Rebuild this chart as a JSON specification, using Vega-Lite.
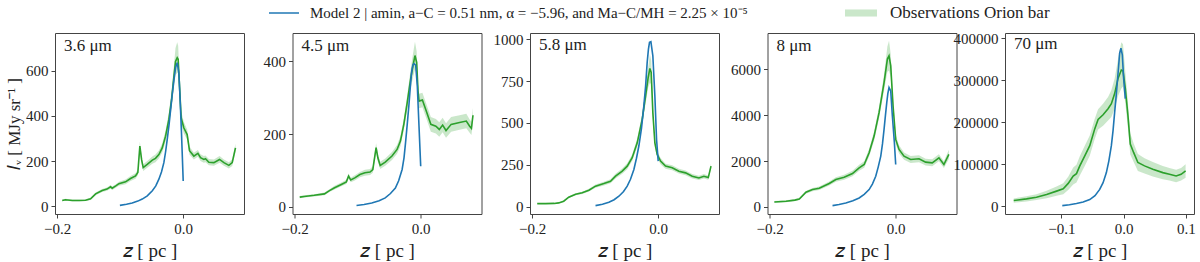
{
  "$schema": "https://vega.github.io/schema/vega-lite/v6.json",
  "padding": {"left": 5, "top": -3, "right": 0, "bottom": 0},
  "bounds": "flush",
  "spacing": 48.5,
  "config": {
    "font": "Liberation Serif",
    "view": {"stroke": "#444", "strokeWidth": 1},
    "axis": {"labelFont": "Liberation Serif", "labelFontSize": 15, "labelColor": "#222", "tickColor": "#444", "tickSize": 4, "domain": false, "grid": false, "labelPadding": 3, "labelFlush": false, "titleFont": "Liberation Serif", "titleColor": "#222", "titleFontWeight": "normal", "titleFontSize": 19},
    "legend": {"labelFont": "Liberation Serif", "labelColor": "#222", "labelLimit": 1000},
    "title": {"font": "Liberation Serif", "fontSize": 17, "fontWeight": "normal", "color": "#222"}
  },
  "datasets": {
    "obs": [
      {"p":"3.6","z":-0.192,"v":26,"lo":22,"hi":30},
      {"p":"3.6","z":-0.187,"v":29,"lo":25,"hi":33},
      {"p":"3.6","z":-0.176,"v":26,"lo":22,"hi":30},
      {"p":"3.6","z":-0.165,"v":26,"lo":22,"hi":30},
      {"p":"3.6","z":-0.155,"v":27,"lo":23,"hi":31},
      {"p":"3.6","z":-0.147,"v":33,"lo":28,"hi":38},
      {"p":"3.6","z":-0.139,"v":55,"lo":49,"hi":61},
      {"p":"3.6","z":-0.1286,"v":70,"lo":63,"hi":77},
      {"p":"3.6","z":-0.121,"v":76,"lo":69,"hi":83},
      {"p":"3.6","z":-0.1153,"v":86,"lo":78,"hi":94},
      {"p":"3.6","z":-0.1127,"v":80,"lo":72,"hi":88},
      {"p":"3.6","z":-0.107,"v":90,"lo":82,"hi":98},
      {"p":"3.6","z":-0.102,"v":100,"lo":91,"hi":109},
      {"p":"3.6","z":-0.0915,"v":108,"lo":98,"hi":118},
      {"p":"3.6","z":-0.0836,"v":123,"lo":112,"hi":134},
      {"p":"3.6","z":-0.0757,"v":134,"lo":122,"hi":146},
      {"p":"3.6","z":-0.072,"v":150,"lo":137,"hi":163},
      {"p":"3.6","z":-0.0688,"v":266,"lo":246,"hi":286},
      {"p":"3.6","z":-0.066,"v":205,"lo":189,"hi":221},
      {"p":"3.6","z":-0.0635,"v":171,"lo":156,"hi":186},
      {"p":"3.6","z":-0.0571,"v":185,"lo":170,"hi":200},
      {"p":"3.6","z":-0.049,"v":204,"lo":188,"hi":220},
      {"p":"3.6","z":-0.044,"v":212,"lo":195,"hi":229},
      {"p":"3.6","z":-0.0386,"v":229,"lo":211,"hi":247},
      {"p":"3.6","z":-0.0333,"v":258,"lo":238,"hi":278},
      {"p":"3.6","z":-0.028,"v":310,"lo":285,"hi":335},
      {"p":"3.6","z":-0.0228,"v":383,"lo":353,"hi":413},
      {"p":"3.6","z":-0.0185,"v":470,"lo":432,"hi":508},
      {"p":"3.6","z":-0.0148,"v":572,"lo":524,"hi":620},
      {"p":"3.6","z":-0.0122,"v":640,"lo":580,"hi":700},
      {"p":"3.6","z":-0.0095,"v":657,"lo":589,"hi":725},
      {"p":"3.6","z":-0.008,"v":650,"lo":590,"hi":710},
      {"p":"3.6","z":-0.0058,"v":528,"lo":483,"hi":573},
      {"p":"3.6","z":-0.0032,"v":390,"lo":360,"hi":420},
      {"p":"3.6","z":0.0011,"v":346,"lo":321,"hi":371},
      {"p":"3.6","z":0.0063,"v":317,"lo":295,"hi":339},
      {"p":"3.6","z":0.01,"v":246,"lo":228,"hi":264},
      {"p":"3.6","z":0.0169,"v":222,"lo":207,"hi":237},
      {"p":"3.6","z":0.0233,"v":234,"lo":219,"hi":249},
      {"p":"3.6","z":0.0275,"v":215,"lo":200,"hi":230},
      {"p":"3.6","z":0.0328,"v":207,"lo":192,"hi":222},
      {"p":"3.6","z":0.0354,"v":210,"lo":195,"hi":225},
      {"p":"3.6","z":0.0407,"v":195,"lo":181,"hi":209},
      {"p":"3.6","z":0.0487,"v":193,"lo":179,"hi":207},
      {"p":"3.6","z":0.0577,"v":207,"lo":192,"hi":222},
      {"p":"3.6","z":0.0646,"v":193,"lo":179,"hi":207},
      {"p":"3.6","z":0.0725,"v":181,"lo":167,"hi":195},
      {"p":"3.6","z":0.0778,"v":193,"lo":178,"hi":208},
      {"p":"3.6","z":0.083,"v":258,"lo":240,"hi":276},

      {"p":"4.5","z":-0.192,"v":27,"lo":24,"hi":30},
      {"p":"4.5","z":-0.185,"v":29,"lo":26,"hi":32},
      {"p":"4.5","z":-0.169,"v":32,"lo":29,"hi":35},
      {"p":"4.5","z":-0.1528,"v":36,"lo":32,"hi":40},
      {"p":"4.5","z":-0.1448,"v":45,"lo":41,"hi":49},
      {"p":"4.5","z":-0.1367,"v":53,"lo":48,"hi":58},
      {"p":"4.5","z":-0.126,"v":62,"lo":57,"hi":67},
      {"p":"4.5","z":-0.118,"v":69,"lo":63,"hi":75},
      {"p":"4.5","z":-0.1145,"v":85,"lo":78,"hi":92},
      {"p":"4.5","z":-0.111,"v":74,"lo":68,"hi":80},
      {"p":"4.5","z":-0.1046,"v":80,"lo":73,"hi":87},
      {"p":"4.5","z":-0.0965,"v":89,"lo":82,"hi":96},
      {"p":"4.5","z":-0.0885,"v":94,"lo":86,"hi":102},
      {"p":"4.5","z":-0.0804,"v":96,"lo":88,"hi":104},
      {"p":"4.5","z":-0.076,"v":103,"lo":94,"hi":112},
      {"p":"4.5","z":-0.0708,"v":163,"lo":151,"hi":175},
      {"p":"4.5","z":-0.068,"v":135,"lo":124,"hi":146},
      {"p":"4.5","z":-0.0643,"v":114,"lo":104,"hi":124},
      {"p":"4.5","z":-0.0563,"v":123,"lo":113,"hi":133},
      {"p":"4.5","z":-0.0456,"v":140,"lo":129,"hi":151},
      {"p":"4.5","z":-0.0375,"v":158,"lo":146,"hi":170},
      {"p":"4.5","z":-0.0322,"v":181,"lo":167,"hi":195},
      {"p":"4.5","z":-0.0268,"v":227,"lo":211,"hi":243},
      {"p":"4.5","z":-0.0214,"v":287,"lo":267,"hi":307},
      {"p":"4.5","z":-0.016,"v":351,"lo":325,"hi":377},
      {"p":"4.5","z":-0.0123,"v":388,"lo":356,"hi":420},
      {"p":"4.5","z":-0.0091,"v":416,"lo":378,"hi":454},
      {"p":"4.5","z":-0.0064,"v":397,"lo":367,"hi":427},
      {"p":"4.5","z":-0.0043,"v":319,"lo":297,"hi":341},
      {"p":"4.5","z":-0.0027,"v":291,"lo":271,"hi":311},
      {"p":"4.5","z":0.0027,"v":294,"lo":274,"hi":314},
      {"p":"4.5","z":0.008,"v":268,"lo":248,"hi":288},
      {"p":"4.5","z":0.0161,"v":227,"lo":207,"hi":247},
      {"p":"4.5","z":0.0241,"v":222,"lo":202,"hi":242},
      {"p":"4.5","z":0.0295,"v":213,"lo":193,"hi":233},
      {"p":"4.5","z":0.0348,"v":225,"lo":205,"hi":245},
      {"p":"4.5","z":0.0402,"v":210,"lo":190,"hi":230},
      {"p":"4.5","z":0.0483,"v":227,"lo":207,"hi":247},
      {"p":"4.5","z":0.0617,"v":232,"lo":212,"hi":252},
      {"p":"4.5","z":0.0724,"v":236,"lo":216,"hi":256},
      {"p":"4.5","z":0.0777,"v":222,"lo":204,"hi":240},
      {"p":"4.5","z":0.0805,"v":216,"lo":198,"hi":234},
      {"p":"4.5","z":0.083,"v":252,"lo":232,"hi":272},

      {"p":"5.8","z":-0.192,"v":20,"lo":17,"hi":23},
      {"p":"5.8","z":-0.179,"v":20,"lo":17,"hi":23},
      {"p":"5.8","z":-0.165,"v":21,"lo":18,"hi":24},
      {"p":"5.8","z":-0.158,"v":24,"lo":21,"hi":27},
      {"p":"5.8","z":-0.15,"v":34,"lo":30,"hi":38},
      {"p":"5.8","z":-0.142,"v":58,"lo":53,"hi":63},
      {"p":"5.8","z":-0.131,"v":76,"lo":70,"hi":82},
      {"p":"5.8","z":-0.1206,"v":84,"lo":77,"hi":91},
      {"p":"5.8","z":-0.11,"v":100,"lo":92,"hi":108},
      {"p":"5.8","z":-0.0995,"v":124,"lo":114,"hi":134},
      {"p":"5.8","z":-0.0862,"v":139,"lo":128,"hi":150},
      {"p":"5.8","z":-0.0757,"v":153,"lo":141,"hi":165},
      {"p":"5.8","z":-0.0677,"v":183,"lo":169,"hi":197},
      {"p":"5.8","z":-0.0571,"v":213,"lo":197,"hi":229},
      {"p":"5.8","z":-0.0492,"v":243,"lo":225,"hi":261},
      {"p":"5.8","z":-0.0413,"v":293,"lo":273,"hi":313},
      {"p":"5.8","z":-0.0333,"v":382,"lo":357,"hi":407},
      {"p":"5.8","z":-0.0254,"v":522,"lo":490,"hi":554},
      {"p":"5.8","z":-0.02,"v":661,"lo":616,"hi":706},
      {"p":"5.8","z":-0.0159,"v":771,"lo":711,"hi":831},
      {"p":"5.8","z":-0.0132,"v":825,"lo":740,"hi":910},
      {"p":"5.8","z":-0.0111,"v":801,"lo":731,"hi":871},
      {"p":"5.8","z":-0.0085,"v":562,"lo":522,"hi":602},
      {"p":"5.8","z":-0.0053,"v":382,"lo":357,"hi":407},
      {"p":"5.8","z":-0.0016,"v":313,"lo":293,"hi":333},
      {"p":"5.8","z":0.0037,"v":273,"lo":255,"hi":291},
      {"p":"5.8","z":0.0116,"v":243,"lo":228,"hi":258},
      {"p":"5.8","z":0.0222,"v":233,"lo":218,"hi":248},
      {"p":"5.8","z":0.0328,"v":213,"lo":199,"hi":227},
      {"p":"5.8","z":0.0434,"v":203,"lo":189,"hi":217},
      {"p":"5.8","z":0.054,"v":183,"lo":170,"hi":196},
      {"p":"5.8","z":0.0646,"v":173,"lo":160,"hi":186},
      {"p":"5.8","z":0.0725,"v":183,"lo":170,"hi":196},
      {"p":"5.8","z":0.0795,"v":175,"lo":162,"hi":188},
      {"p":"5.8","z":0.0838,"v":243,"lo":228,"hi":258},

      {"p":"8","z":-0.1926,"v":219,"lo":179,"hi":259},
      {"p":"8","z":-0.174,"v":248,"lo":208,"hi":288},
      {"p":"8","z":-0.16,"v":300,"lo":255,"hi":345},
      {"p":"8","z":-0.153,"v":350,"lo":300,"hi":400},
      {"p":"8","z":-0.1425,"v":642,"lo":582,"hi":702},
      {"p":"8","z":-0.132,"v":759,"lo":689,"hi":829},
      {"p":"8","z":-0.1214,"v":818,"lo":743,"hi":893},
      {"p":"8","z":-0.1055,"v":1022,"lo":932,"hi":1112},
      {"p":"8","z":-0.095,"v":1197,"lo":1097,"hi":1297},
      {"p":"8","z":-0.0818,"v":1300,"lo":1190,"hi":1410},
      {"p":"8","z":-0.0686,"v":1460,"lo":1340,"hi":1580},
      {"p":"8","z":-0.058,"v":1708,"lo":1578,"hi":1838},
      {"p":"8","z":-0.05,"v":1854,"lo":1714,"hi":1994},
      {"p":"8","z":-0.0422,"v":2365,"lo":2205,"hi":2525},
      {"p":"8","z":-0.0343,"v":3095,"lo":2895,"hi":3295},
      {"p":"8","z":-0.0264,"v":4117,"lo":3867,"hi":4367},
      {"p":"8","z":-0.0185,"v":5431,"lo":5081,"hi":5781},
      {"p":"8","z":-0.0132,"v":6453,"lo":5903,"hi":7003},
      {"p":"8","z":-0.0106,"v":6599,"lo":5949,"hi":7249},
      {"p":"8","z":-0.0079,"v":6161,"lo":5661,"hi":6661},
      {"p":"8","z":-0.0042,"v":4409,"lo":4109,"hi":4709},
      {"p":"8","z":0.0,"v":2949,"lo":2749,"hi":3149},
      {"p":"8","z":0.0053,"v":2511,"lo":2331,"hi":2691},
      {"p":"8","z":0.0132,"v":2219,"lo":2059,"hi":2379},
      {"p":"8","z":0.0237,"v":2073,"lo":1923,"hi":2223},
      {"p":"8","z":0.037,"v":2102,"lo":1952,"hi":2252},
      {"p":"8","z":0.0475,"v":1956,"lo":1806,"hi":2106},
      {"p":"8","z":0.058,"v":1927,"lo":1777,"hi":2077},
      {"p":"8","z":0.0686,"v":2146,"lo":1996,"hi":2296},
      {"p":"8","z":0.0765,"v":1850,"lo":1700,"hi":2000},
      {"p":"8","z":0.0844,"v":2292,"lo":2092,"hi":2492},

      {"p":"70","z":-0.1765,"v":13600,"lo":8600,"hi":18600},
      {"p":"70","z":-0.156,"v":17600,"lo":11600,"hi":23600},
      {"p":"70","z":-0.14,"v":21600,"lo":14600,"hi":28600},
      {"p":"70","z":-0.1237,"v":28000,"lo":19000,"hi":37000},
      {"p":"70","z":-0.1077,"v":36000,"lo":25000,"hi":47000},
      {"p":"70","z":-0.097,"v":41600,"lo":28600,"hi":54600},
      {"p":"70","z":-0.089,"v":54400,"lo":38400,"hi":70400},
      {"p":"70","z":-0.081,"v":72000,"lo":52000,"hi":92000},
      {"p":"70","z":-0.0757,"v":77600,"lo":56600,"hi":98600},
      {"p":"70","z":-0.0704,"v":96000,"lo":73000,"hi":119000},
      {"p":"70","z":-0.0624,"v":120000,"lo":96000,"hi":144000},
      {"p":"70","z":-0.0544,"v":144000,"lo":120000,"hi":168000},
      {"p":"70","z":-0.0464,"v":184000,"lo":160000,"hi":208000},
      {"p":"70","z":-0.041,"v":206400,"lo":182400,"hi":230400},
      {"p":"70","z":-0.033,"v":217600,"lo":191600,"hi":243600},
      {"p":"70","z":-0.025,"v":232000,"lo":204000,"hi":260000},
      {"p":"70","z":-0.0197,"v":244000,"lo":212000,"hi":276000},
      {"p":"70","z":-0.0144,"v":268000,"lo":232000,"hi":304000},
      {"p":"70","z":-0.009,"v":304000,"lo":262000,"hi":350000},
      {"p":"70","z":-0.0037,"v":324000,"lo":280000,"hi":390000},
      {"p":"70","z":-0.001,"v":322000,"lo":285000,"hi":385000},
      {"p":"70","z":0.0027,"v":280000,"lo":245000,"hi":320000},
      {"p":"70","z":0.0069,"v":216000,"lo":186000,"hi":246000},
      {"p":"70","z":0.0107,"v":148000,"lo":123000,"hi":173000},
      {"p":"70","z":0.016,"v":128000,"lo":106000,"hi":150000},
      {"p":"70","z":0.0229,"v":104000,"lo":84000,"hi":124000},
      {"p":"70","z":0.0336,"v":96000,"lo":78000,"hi":114000},
      {"p":"70","z":0.0469,"v":88000,"lo":71000,"hi":105000},
      {"p":"70","z":0.0629,"v":80000,"lo":64000,"hi":96000},
      {"p":"70","z":0.0736,"v":76000,"lo":61000,"hi":91000},
      {"p":"70","z":0.0843,"v":72000,"lo":57000,"hi":87000},
      {"p":"70","z":0.0923,"v":76000,"lo":61000,"hi":91000},
      {"p":"70","z":0.0995,"v":84000,"lo":68000,"hi":100000}
    ],
    "mod": [
      {"p":"3.6","z":-0.1005,"v":4},
      {"p":"3.6","z":-0.09,"v":9},
      {"p":"3.6","z":-0.081,"v":15},
      {"p":"3.6","z":-0.072,"v":23},
      {"p":"3.6","z":-0.065,"v":32},
      {"p":"3.6","z":-0.057,"v":46},
      {"p":"3.6","z":-0.049,"v":69},
      {"p":"3.6","z":-0.0435,"v":90},
      {"p":"3.6","z":-0.0386,"v":120},
      {"p":"3.6","z":-0.0345,"v":152},
      {"p":"3.6","z":-0.0307,"v":193},
      {"p":"3.6","z":-0.028,"v":240},
      {"p":"3.6","z":-0.0254,"v":295},
      {"p":"3.6","z":-0.0225,"v":360},
      {"p":"3.6","z":-0.02,"v":426},
      {"p":"3.6","z":-0.0175,"v":492},
      {"p":"3.6","z":-0.0148,"v":558},
      {"p":"3.6","z":-0.012,"v":615},
      {"p":"3.6","z":-0.0095,"v":635},
      {"p":"3.6","z":-0.0069,"v":590},
      {"p":"3.6","z":-0.0055,"v":510},
      {"p":"3.6","z":-0.0042,"v":426},
      {"p":"3.6","z":-0.0028,"v":330},
      {"p":"3.6","z":-0.0016,"v":237},
      {"p":"3.6","z":0.0,"v":112},

      {"p":"4.5","z":-0.1019,"v":4},
      {"p":"4.5","z":-0.09,"v":7},
      {"p":"4.5","z":-0.0777,"v":11},
      {"p":"4.5","z":-0.066,"v":17},
      {"p":"4.5","z":-0.0563,"v":25},
      {"p":"4.5","z":-0.048,"v":37},
      {"p":"4.5","z":-0.0402,"v":52},
      {"p":"4.5","z":-0.035,"v":72},
      {"p":"4.5","z":-0.0295,"v":103},
      {"p":"4.5","z":-0.0265,"v":135},
      {"p":"4.5","z":-0.0241,"v":176},
      {"p":"4.5","z":-0.0215,"v":225},
      {"p":"4.5","z":-0.0188,"v":278},
      {"p":"4.5","z":-0.0165,"v":330},
      {"p":"4.5","z":-0.0145,"v":370},
      {"p":"4.5","z":-0.0125,"v":390},
      {"p":"4.5","z":-0.0107,"v":394},
      {"p":"4.5","z":-0.008,"v":390},
      {"p":"4.5","z":-0.0054,"v":333},
      {"p":"4.5","z":-0.0027,"v":222},
      {"p":"4.5","z":0.0,"v":112},

      {"p":"5.8","z":-0.0995,"v":8},
      {"p":"5.8","z":-0.0885,"v":16},
      {"p":"5.8","z":-0.0783,"v":28},
      {"p":"5.8","z":-0.07,"v":43},
      {"p":"5.8","z":-0.0624,"v":64},
      {"p":"5.8","z":-0.055,"v":92},
      {"p":"5.8","z":-0.0492,"v":124},
      {"p":"5.8","z":-0.044,"v":165},
      {"p":"5.8","z":-0.0386,"v":223},
      {"p":"5.8","z":-0.0345,"v":290},
      {"p":"5.8","z":-0.0307,"v":363},
      {"p":"5.8","z":-0.0265,"v":470},
      {"p":"5.8","z":-0.0228,"v":602},
      {"p":"5.8","z":-0.02,"v":720},
      {"p":"5.8","z":-0.0175,"v":861},
      {"p":"5.8","z":-0.0155,"v":940},
      {"p":"5.8","z":-0.0138,"v":980},
      {"p":"5.8","z":-0.0116,"v":984},
      {"p":"5.8","z":-0.0085,"v":900},
      {"p":"5.8","z":-0.0053,"v":661},
      {"p":"5.8","z":-0.0026,"v":402},
      {"p":"5.8","z":0.0,"v":273},

      {"p":"8","z":-0.1003,"v":58},
      {"p":"8","z":-0.09,"v":110},
      {"p":"8","z":-0.0792,"v":175},
      {"p":"8","z":-0.068,"v":270},
      {"p":"8","z":-0.058,"v":394},
      {"p":"8","z":-0.05,"v":550},
      {"p":"8","z":-0.0422,"v":759},
      {"p":"8","z":-0.037,"v":1000},
      {"p":"8","z":-0.0317,"v":1343},
      {"p":"8","z":-0.0277,"v":1750},
      {"p":"8","z":-0.0237,"v":2219},
      {"p":"8","z":-0.021,"v":2750},
      {"p":"8","z":-0.0185,"v":3387},
      {"p":"8","z":-0.0163,"v":4000},
      {"p":"8","z":-0.0142,"v":4555},
      {"p":"8","z":-0.0125,"v":4950},
      {"p":"8","z":-0.0106,"v":5212},
      {"p":"8","z":-0.0079,"v":5066},
      {"p":"8","z":-0.0053,"v":3971},
      {"p":"8","z":-0.0021,"v":2803},
      {"p":"8","z":0.0,"v":1854},

      {"p":"70","z":-0.0985,"v":1600},
      {"p":"70","z":-0.087,"v":3500},
      {"p":"70","z":-0.0757,"v":6400},
      {"p":"70","z":-0.065,"v":10000},
      {"p":"70","z":-0.0544,"v":16000},
      {"p":"70","z":-0.046,"v":25000},
      {"p":"70","z":-0.0384,"v":40000},
      {"p":"70","z":-0.033,"v":56000},
      {"p":"70","z":-0.0277,"v":80000},
      {"p":"70","z":-0.0237,"v":108000},
      {"p":"70","z":-0.0197,"v":144000},
      {"p":"70","z":-0.017,"v":180000},
      {"p":"70","z":-0.0144,"v":224000},
      {"p":"70","z":-0.012,"v":262000},
      {"p":"70","z":-0.0101,"v":296000},
      {"p":"70","z":-0.0082,"v":330000},
      {"p":"70","z":-0.0064,"v":364000},
      {"p":"70","z":-0.0043,"v":376000},
      {"p":"70","z":-0.0021,"v":360000},
      {"p":"70","z":0.0,"v":304000},
      {"p":"70","z":0.0027,"v":256000}
    ]
  },
  "hconcat": [
    {
      "width": 189, "height": 181,
      "title": {"text": "3.6 μm", "anchor": "start", "frame": "group", "offset": -22, "dx": 9, "font": "Liberation Serif", "fontWeight": "normal"},
      "layer": [
        {"data": {"name": "obs"}, "transform": [{"filter": "datum.p == '3.6'"}],
         "mark": {"type": "area", "opacity": 0.25},
         "encoding": {
           "x": {"field": "z", "type": "quantitative", "scale": {"domain": [-0.2035, 0.0965], "nice": false, "zero": false}, "axis": {"values": [-0.2, 0], "format": ".1f", "title": "𝑧 [ pc ]", "titlePadding": 5}},
           "y": {"field": "lo", "type": "quantitative", "scale": {"domain": [-34, 766], "nice": false, "zero": false}, "axis": {"values": [0, 200, 400, 600], "format": "d", "title": "𝐼ᵥ [ MJy sr⁻¹ ]", "titleFontSize": 17, "titlePadding": 2}},
           "y2": {"field": "hi"},
           "fill": {"datum": "Observations Orion bar", "type": "nominal", "scale": {"range": ["#2ca02c"]},
             "legend": {"orient": "none", "legendX": 790, "legendY": -36, "title": null, "symbolType": "M-1,-0.22H1V0.22H-1Z", "symbolSize": 1024, "symbolOpacity": 0.25, "symbolStrokeWidth": 0, "labelOffset": 13, "labelFontSize": 17}}
         }},
        {"data": {"name": "obs"}, "transform": [{"filter": "datum.p == '3.6'"}],
         "mark": {"type": "line", "color": "#2ca02c", "strokeWidth": 1.6},
         "encoding": {"x": {"field": "z", "type": "quantitative"}, "y": {"field": "v", "type": "quantitative"}}},
        {"data": {"name": "mod"}, "transform": [{"filter": "datum.p == '3.6'"}],
         "mark": {"type": "line", "strokeWidth": 1.6},
         "encoding": {"x": {"field": "z", "type": "quantitative"}, "y": {"field": "v", "type": "quantitative"},
           "stroke": {"datum": "Model 2 | amin, a−C = 0.51 nm, α = −5.96, and Ma−C/MH = 2.25 × 10⁻⁵", "type": "nominal", "scale": {"range": ["#1f77b4"]},
             "legend": {"orient": "none", "legendX": 213, "legendY": -36, "title": null, "symbolType": "stroke", "symbolSize": 900, "symbolStrokeWidth": 1.5, "labelOffset": 10, "labelFontSize": 15}}}}
      ]
    },
    {
      "width": 189, "height": 181,
      "title": {"text": "4.5 μm", "anchor": "start", "frame": "group", "offset": -22, "dx": 9, "font": "Liberation Serif", "fontWeight": "normal"},
      "layer": [
        {"data": {"name": "obs"}, "transform": [{"filter": "datum.p == '4.5'"}],
         "mark": {"type": "area", "color": "#2ca02c", "opacity": 0.25},
         "encoding": {
           "x": {"field": "z", "type": "quantitative", "scale": {"domain": [-0.2035, 0.0965], "nice": false, "zero": false}, "axis": {"values": [-0.2, 0], "format": ".1f", "title": "𝑧 [ pc ]", "titlePadding": 5}},
           "y": {"field": "lo", "type": "quantitative", "scale": {"domain": [-19.3, 478], "nice": false, "zero": false}, "axis": {"values": [0, 200, 400], "format": "d", "title": null}},
           "y2": {"field": "hi"}
         }},
        {"data": {"name": "obs"}, "transform": [{"filter": "datum.p == '4.5'"}],
         "mark": {"type": "line", "color": "#2ca02c", "strokeWidth": 1.6},
         "encoding": {"x": {"field": "z", "type": "quantitative"}, "y": {"field": "v", "type": "quantitative"}}},
        {"data": {"name": "mod"}, "transform": [{"filter": "datum.p == '4.5'"}],
         "mark": {"type": "line", "color": "#1f77b4", "strokeWidth": 1.6},
         "encoding": {"x": {"field": "z", "type": "quantitative"}, "y": {"field": "v", "type": "quantitative"}}}
      ]
    },
    {
      "width": 189, "height": 181,
      "title": {"text": "5.8 μm", "anchor": "start", "frame": "group", "offset": -22, "dx": 9, "font": "Liberation Serif", "fontWeight": "normal"},
      "layer": [
        {"data": {"name": "obs"}, "transform": [{"filter": "datum.p == '5.8'"}],
         "mark": {"type": "area", "color": "#2ca02c", "opacity": 0.25},
         "encoding": {
           "x": {"field": "z", "type": "quantitative", "scale": {"domain": [-0.2035, 0.0965], "nice": false, "zero": false}, "axis": {"values": [-0.2, 0], "format": ".1f", "title": "𝑧 [ pc ]", "titlePadding": 5}},
           "y": {"field": "lo", "type": "quantitative", "scale": {"domain": [-42, 1036], "nice": false, "zero": false}, "axis": {"values": [0, 250, 500, 750, 1000], "format": "d", "title": null}},
           "y2": {"field": "hi"}
         }},
        {"data": {"name": "obs"}, "transform": [{"filter": "datum.p == '5.8'"}],
         "mark": {"type": "line", "color": "#2ca02c", "strokeWidth": 1.6},
         "encoding": {"x": {"field": "z", "type": "quantitative"}, "y": {"field": "v", "type": "quantitative"}}},
        {"data": {"name": "mod"}, "transform": [{"filter": "datum.p == '5.8'"}],
         "mark": {"type": "line", "color": "#1f77b4", "strokeWidth": 1.6},
         "encoding": {"x": {"field": "z", "type": "quantitative"}, "y": {"field": "v", "type": "quantitative"}}}
      ]
    },
    {
      "width": 189, "height": 181,
      "title": {"text": "8 μm", "anchor": "start", "frame": "group", "offset": -22, "dx": 9, "font": "Liberation Serif", "fontWeight": "normal"},
      "layer": [
        {"data": {"name": "obs"}, "transform": [{"filter": "datum.p == '8'"}],
         "mark": {"type": "area", "color": "#2ca02c", "opacity": 0.25},
         "encoding": {
           "x": {"field": "z", "type": "quantitative", "scale": {"domain": [-0.2035, 0.0965], "nice": false, "zero": false}, "axis": {"values": [-0.2, 0], "format": ".1f", "title": "𝑧 [ pc ]", "titlePadding": 5}},
           "y": {"field": "lo", "type": "quantitative", "scale": {"domain": [-307, 7592], "nice": false, "zero": false}, "axis": {"values": [0, 2000, 4000, 6000], "format": "d", "title": null}},
           "y2": {"field": "hi"}
         }},
        {"data": {"name": "obs"}, "transform": [{"filter": "datum.p == '8'"}],
         "mark": {"type": "line", "color": "#2ca02c", "strokeWidth": 1.6},
         "encoding": {"x": {"field": "z", "type": "quantitative"}, "y": {"field": "v", "type": "quantitative"}}},
        {"data": {"name": "mod"}, "transform": [{"filter": "datum.p == '8'"}],
         "mark": {"type": "line", "color": "#1f77b4", "strokeWidth": 1.6},
         "encoding": {"x": {"field": "z", "type": "quantitative"}, "y": {"field": "v", "type": "quantitative"}}}
      ]
    },
    {
      "width": 189, "height": 181,
      "title": {"text": "70 μm", "anchor": "start", "frame": "group", "offset": -22, "dx": 9, "font": "Liberation Serif", "fontWeight": "normal"},
      "layer": [
        {"data": {"name": "obs"}, "transform": [{"filter": "datum.p == '70'"}],
         "mark": {"type": "area", "color": "#2ca02c", "opacity": 0.25},
         "encoding": {
           "x": {"field": "z", "type": "quantitative", "scale": {"domain": [-0.1905, 0.113], "nice": false, "zero": false}, "axis": {"values": [-0.1, 0, 0.1], "format": ".1f", "title": "𝑧 [ pc ]", "titlePadding": 5}},
           "y": {"field": "lo", "type": "quantitative", "scale": {"domain": [-18400, 412000], "nice": false, "zero": false}, "axis": {"values": [0, 100000, 200000, 300000, 400000], "format": "d", "title": null}},
           "y2": {"field": "hi"}
         }},
        {"data": {"name": "obs"}, "transform": [{"filter": "datum.p == '70'"}],
         "mark": {"type": "line", "color": "#2ca02c", "strokeWidth": 1.6},
         "encoding": {"x": {"field": "z", "type": "quantitative"}, "y": {"field": "v", "type": "quantitative"}}},
        {"data": {"name": "mod"}, "transform": [{"filter": "datum.p == '70'"}],
         "mark": {"type": "line", "color": "#1f77b4", "strokeWidth": 1.6},
         "encoding": {"x": {"field": "z", "type": "quantitative"}, "y": {"field": "v", "type": "quantitative"}}}
      ]
    }
  ]
}
